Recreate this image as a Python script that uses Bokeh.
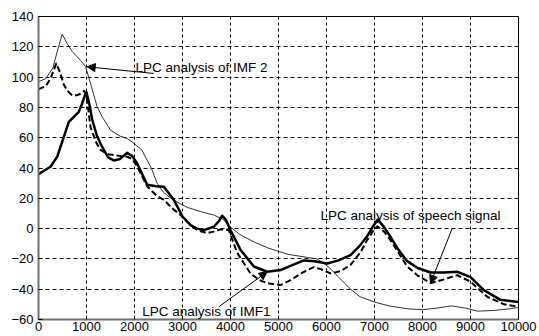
from bokeh.plotting import figure
from bokeh.models import FixedTicker, Range1d, Arrow, NormalHead, Label
from bokeh.embed import file_html
from bokeh.resources import INLINE

# LPC spectral envelopes (dB) versus frequency (Hz)
freq_speech = [0, 250, 389, 528, 632, 736, 840, 910, 979, 1000, 1060, 1118, 1210, 1292, 1450,
               1569, 1700, 1847, 1950, 2056, 2264, 2450, 2611, 2819, 3000, 3167, 3300, 3444,
               3653, 3760, 3826, 3900, 4000, 4208, 4486, 4764, 5042, 5300, 5528, 5750, 6014,
               6250, 6500, 6700, 6847, 6960, 7069, 7200, 7333, 7500, 7681, 7900, 8167, 8450,
               8722, 9000, 9278, 9625, 10000]
lpc_speech = [36, 40.8, 47.4, 60.6, 70.5, 73.8, 77.1, 82.6, 89, 90, 82, 72, 62, 56, 47,
              45, 46, 50, 48, 43, 29, 28, 27.6, 19, 8, 2.3, 0, -1,
              1.2, 5, 8.5, 6, -1, -14, -25, -28.5, -27.4, -24, -21, -21.5, -23,
              -21, -17.5, -11, -5, 1, 6, 1, -5.4, -14, -21.5, -26, -29, -29,
              -28.5, -32, -40.6, -47, -48.5]

freq_imf1 = [0, 150, 250, 370, 450, 528, 600, 701, 800, 875, 950, 1000, 1083, 1200, 1292,
             1450, 1569, 1847, 1950, 2056, 2264, 2450, 2611, 2800, 2958, 3150, 3306, 3514,
             3650, 3792, 3965, 4139, 4417, 4600, 4764, 5042, 5250, 5500, 5736, 5900, 6083,
             6300, 6500, 6700, 6847, 6960, 7056, 7200, 7333, 7500, 7681, 7900, 8167, 8450,
             8722, 9000, 9347, 9700, 10000]
lpc_imf1 = [92, 94, 99, 109, 103, 95, 91, 88, 88, 89, 91, 88, 67, 57, 52,
            49, 48.5, 47.4, 46, 41, 28, 22, 19, 13, 9, 3, -1, -3,
            -2, -0.5, -1, -16, -29.6, -34, -36, -37.3, -34, -29, -25.4, -27, -29.6,
            -28, -24, -16, -7.6, -2, 1.5, -2, -7.6, -16, -25, -31, -36, -33.5,
            -30.7, -35, -45, -50, -51.6]

freq_imf2 = [0, 150, 300, 400, 494, 600, 700, 875, 980, 1100, 1222, 1326, 1500, 1700, 1847,
             2000, 2150, 2250, 2350, 2470, 2600, 2800, 3100, 3400, 3650, 3850, 4000, 4200,
             4500, 4800, 5200, 5600, 5800, 5950, 6100, 6250, 6500, 6700, 7000, 7300, 7700,
             8000, 8300, 8600, 8900, 9150, 9500, 9800, 10000]
lpc_imf2 = [97, 99, 106, 118, 128.4, 122, 117, 111, 107, 94, 80.4, 73.8, 65, 61, 59.5,
            56, 52, 46, 40, 30, 24, 19, 14, 11, 9, 6, 1, -4,
            -9, -13, -17, -19, -20, -23, -27, -32, -40, -45, -48.5, -51, -53,
            -53.5, -52.5, -51, -52.5, -54.5, -54, -53, -52]

x_ticks = [0, 1000, 2000, 3000, 4000, 5000, 6000, 7000, 8000, 9000, 10000]
y_ticks = [-60, -40, -20, 0, 20, 40, 60, 80, 100, 120, 140]

FONT = "Liberation Sans"

p = figure(width=539, height=336, output_backend="svg", toolbar_location=None,
           x_range=Range1d(0, 10000), y_range=Range1d(-60, 140),
           min_border_left=38, min_border_right=21, min_border_top=16, min_border_bottom=17)
p.background_fill_color = "white"
p.border_fill_color = "white"
p.outline_line_color = "black"
p.outline_line_width = 1

# axes
for ax, ticks in ((p.xaxis[0], x_ticks), (p.yaxis[0], y_ticks)):
    ax.ticker = FixedTicker(ticks=ticks)
    ax.major_tick_in = 4
    ax.major_tick_out = 0
    ax.minor_tick_line_color = None
    ax.axis_line_color = "#707070"
    ax.axis_line_width = 2
    ax.major_tick_line_color = "black"
    ax.major_label_text_font = FONT
    ax.major_label_text_font_size = "13px"
    ax.major_label_text_color = "black"
p.xaxis.major_label_standoff = 2
p.yaxis.major_label_standoff = 5

# dotted grid
p.xgrid.ticker = FixedTicker(ticks=x_ticks)
p.ygrid.ticker = FixedTicker(ticks=y_ticks)
p.xgrid.grid_line_color = "black"
p.ygrid.grid_line_color = "black"
p.xgrid.grid_line_dash = "3 3"
p.ygrid.grid_line_dash = "4 3"
p.xgrid.grid_line_width = 1
p.ygrid.grid_line_width = 1

# curves
p.line(freq_imf2, lpc_imf2, line_color="#303030", line_width=1, line_join="round")
p.line(freq_imf1, lpc_imf1, line_color="black", line_width=2, line_dash="6 3",
       line_join="round")
p.line(freq_speech, lpc_speech, line_color="black", line_width=2.5, line_join="round")

# annotations
head = dict(size=8, fill_color="black", line_color="black")
p.add_layout(Arrow(end=NormalHead(**head), x_start=2400, y_start=102.4,
                   x_end=1014, y_end=106.8, line_color="black", line_width=1))
p.add_layout(Arrow(end=NormalHead(**head), x_start=3757, y_start=-51.6,
                   x_end=4764, y_end=-28.5, line_color="black", line_width=1))
p.add_layout(Arrow(end=NormalHead(**head), x_start=8618, y_start=0.1,
                   x_end=8167, y_end=-36.2, line_color="black", line_width=1))

label_style = dict(text_font=FONT, text_font_size="13.5px", text_baseline="middle",
                   text_color="black")
p.add_layout(Label(x=2021, y=106.6, text="LPC analysis of IMF 2", **label_style))
p.add_layout(Label(x=2160, y=-54.5, text="LPC analysis of IMF1", **label_style))
p.add_layout(Label(x=5875, y=8.4, text="LPC analysis of speech signal", **label_style))

open("out.html", "w").write(file_html(p, INLINE))
